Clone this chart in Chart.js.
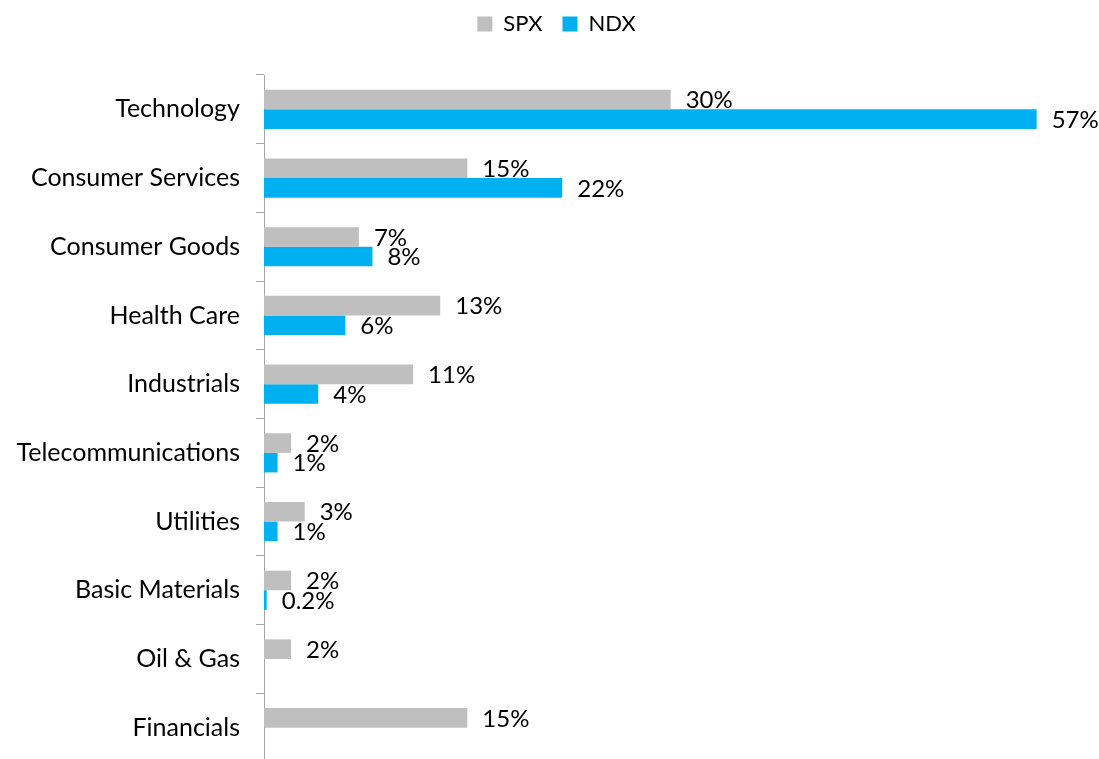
<!DOCTYPE html>
<html>
<head>
<meta charset="utf-8">
<script src="https://cdn.jsdelivr.net/npm/chart.js@4"></script>
<style>
  html, body { margin: 0; padding: 0; background: #fff; overflow: hidden; }
  #wrap { width: 1099px; height: 762px; position: relative; }
</style>
</head>
<body>
<div id="wrap"><canvas id="sector-weights"></canvas></div>
<script>
const sectors = ['Technology', 'Consumer Services', 'Consumer Goods', 'Health Care', 'Industrials',
  'Telecommunications', 'Utilities', 'Basic Materials', 'Oil & Gas', 'Financials']
const spxWeights = [30, 15, 7, 13, 11, 2, 3, 2, 2, 15]
const ndxWeights = [57, 22, 8, 6, 4, 1, 1, 0.2, null, null]

const FONT = 'Lato, "Liberation Sans", sans-serif'

// value labels at the end of every bar, plus some legend spacing
const barLabels = {
  id: 'barLabels',
  afterInit(chart) {
    // leave a gap between the legend and the bars
    const legend = chart.legend
    const fit = legend.fit
    legend.fit = function () {
      fit.call(this)
      this.height += 20
    }
  },
  afterLayout(chart) {
    // move the legend up and a little to the right
    const legend = chart.legend
    legend.left += 7
    legend.right += 7
    legend.top -= 10
    legend.bottom -= 10
  },
  afterDatasetsDraw(chart) {
    const ctx = chart.ctx
    ctx.save()
    ctx.font = '24px ' + FONT
    ctx.fillStyle = '#000'
    ctx.textAlign = 'left'
    ctx.textBaseline = 'middle'
    chart.data.datasets.forEach((ds, i) => {
      chart.getDatasetMeta(i).data.forEach((bar, j) => {
        const v = ds.data[j]
        if (v == null) return
        ctx.fillText(v + '%', bar.x + 15, bar.y + 1)
      })
    })
    ctx.restore()
  },
}

const barConfig = {
  type: 'bar',
  data: {
    labels: sectors,
    datasets: [
      {
        label: 'SPX',
        data: spxWeights,
        backgroundColor: '#bfbfbf',
        categoryPercentage: 0.57,
        barPercentage: 1,
      },
      {
        label: 'NDX',
        data: ndxWeights,
        backgroundColor: '#00b0f0',
        categoryPercentage: 0.57,
        barPercentage: 1,
      },
    ],
  },
  options: {
    indexAxis: 'y',
    responsive: true,
    maintainAspectRatio: false,
    animation: false,
    layout: { padding: { left: 0, right: 0, top: 3, bottom: 0 } },
    scales: {
      x: { display: false, min: 0, max: 61.6 },
      y: {
        afterFit(scale) {
          // fixed width label column, no extra padding for the end labels
          scale.width = 264
          scale.paddingTop = 0
          scale.paddingBottom = 0
        },
        grid: { display: true, drawOnChartArea: false, offset: true, tickLength: 8, color: '#a6a6a6' },
        border: { display: true, color: '#a6a6a6' },
        ticks: { color: '#000', padding: 16, font: { family: FONT, size: 25 } },
      },
    },
    plugins: {
      legend: {
        position: 'top',
        labels: { color: '#000', boxWidth: 15, boxHeight: 15, padding: 20, font: { family: FONT, size: 22 } },
      },
      tooltip: { enabled: false },
    },
  },
  plugins: [barLabels],
}

const barCtx = document.getElementById('sector-weights')
window.myBar = new Chart(barCtx, barConfig)
</script>
</body>
</html>
